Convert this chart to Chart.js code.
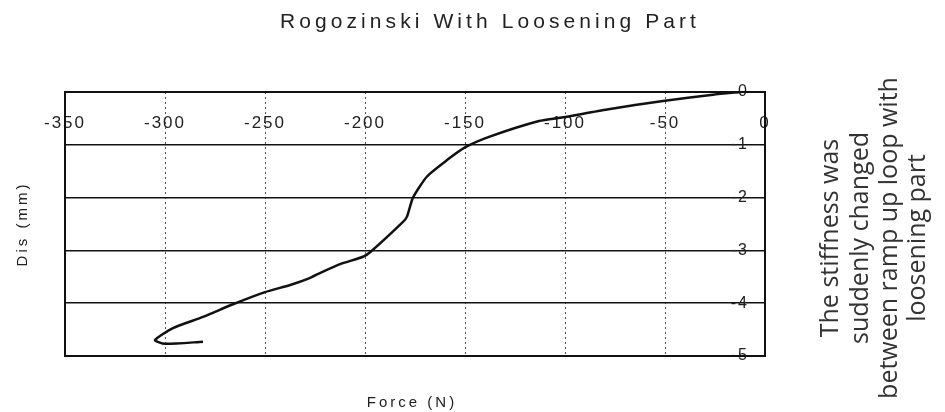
<!DOCTYPE html>
<html>
<head>
<meta charset="utf-8">
<script src="https://cdn.jsdelivr.net/npm/chart.js@4/dist/chart.umd.min.js"></script>
<style>
  body { margin: 0; background: #fff; }
  canvas { display: block; }
</style>
</head>
<body>
<canvas id="myChart" width="945" height="412"></canvas>
<script>
// data (Force in N, displacement in mm)
var forceN = [-12, -26, -51, -79, -101, -113, -138, -150, -159, -169, -176, -179, -181, -197, -201, -212.5, -222, -228, -237, -250, -266, -281, -296, -305, -300, -281];
var disMm = [0, -0.05, -0.17, -0.33, -0.48, -0.55, -0.85, -1.05, -1.29, -1.6, -2.0, -2.36, -2.46, -3.02, -3.12, -3.26, -3.42, -3.53, -3.65, -3.79, -4.02, -4.26, -4.47, -4.70, -4.77, -4.73];

var xTicks = [-350, -300, -250, -200, -150, -100, -50, 0];
var yTicks = [0, -1, -2, -3, -4, -5];

var chartTitle = 'Rogozinski With Loosening Part';
var xTitle = 'Force (N)';
var yTitle = 'Dis (mm)';
var note = ['The stiffness was', 'suddenly changed', 'between ramp up loop with', 'loosening part'];

var points = [];
for (var i = 0; i < forceN.length; i++) {
    points.push({ x: forceN[i], y: disMm[i] });
}

// spaced-out text helper
function spaced(ctx, text, x, y, font, spacing, align) {
    ctx.font = font;
    ctx.letterSpacing = spacing + 'px';
    ctx.textAlign = align || 'center';
    ctx.fillText(text, x, y);
    ctx.letterSpacing = '0px';
}

var decor = {
    id: 'decor',
    beforeDraw: function (chart) {
        // tick labels look letter-spaced in the reference
        chart.ctx.letterSpacing = '2px';
    },
    beforeDatasetsDraw: function (chart) {
        var ctx = chart.ctx, a = chart.chartArea;
        ctx.letterSpacing = '0px';
        ctx.save();
        ctx.strokeStyle = '#111';
        ctx.lineWidth = 2;
        ctx.strokeRect(a.left, a.top, a.right - a.left, a.bottom - a.top);
        ctx.restore();
    },
    afterDraw: function (chart) {
        var ctx = chart.ctx;
        ctx.save();
        ctx.fillStyle = '#222';
        ctx.textBaseline = 'alphabetic';

        // title, stretched to the width it has in the picture
        ctx.font = '21px "Liberation Sans", Arial, sans-serif';
        ctx.letterSpacing = '0px';
        var w0 = ctx.measureText(chartTitle).width;
        var ls = (420 - w0) / chartTitle.length;
        spaced(ctx, chartTitle, 280, 28, ctx.font, ls, 'left');

        spaced(ctx, xTitle, 412, 407, '15px "Liberation Sans", Arial, sans-serif', 3);

        ctx.save();
        ctx.translate(27, 224);
        ctx.rotate(-Math.PI / 2);
        spaced(ctx, yTitle, 0, 0, '15px "Liberation Sans", Arial, sans-serif', 3);
        ctx.restore();

        ctx.fillStyle = '#333';
        var baseX = [838, 868, 897, 925];
        for (var k = 0; k < note.length; k++) {
            ctx.save();
            ctx.translate(baseX[k], 238);
            ctx.rotate(-Math.PI / 2);
            spaced(ctx, note[k], 0, 0, '25px "Open Sans", sans-serif', 0);
            ctx.restore();
        }
        ctx.restore();
    }
};

var ctx = document.getElementById('myChart').getContext('2d');
window.myChart = new Chart(ctx, {
    type: 'scatter',
    data: {
        datasets: [{
            data: points,
            showLine: true,
            borderColor: '#111',
            borderWidth: 2.5,
            pointRadius: 0,
            tension: 0.2,
            fill: false
        }]
    },
    options: {
        responsive: false,
        animation: false,
        layout: { padding: { left: 65, right: 180, top: 92, bottom: 56 } },
        plugins: {
            legend: { display: false },
            tooltip: { enabled: false }
        },
        scales: {
            x: {
                type: 'linear',
                position: 'top',
                min: -350,
                max: 0,
                afterBuildTicks: function (s) { s.ticks = xTicks.map(function (v) { return { value: v }; }); },
                afterFit: function (s) { s.height = 0; },
                ticks: {
                    mirror: true,
                    padding: 21,
                    color: '#222',
                    font: { family: '"Liberation Sans", Arial, sans-serif', size: 17 }
                },
                grid: {
                    drawTicks: false,
                    color: '#555',
                    lineWidth: 1
                },
                border: { display: false, dash: [2, 3] }
            },
            y: {
                type: 'linear',
                position: 'right',
                min: -5,
                max: 0,
                afterBuildTicks: function (s) { s.ticks = yTicks.map(function (v) { return { value: v }; }); },
                afterFit: function (s) { s.width = 0; },
                ticks: {
                    mirror: true,
                    padding: -16,
                    color: '#222',
                    font: { family: '"Liberation Sans", Arial, sans-serif', size: 16 }
                },
                grid: {
                    drawTicks: false,
                    color: '#111',
                    lineWidth: 1.5
                },
                border: { display: false }
            }
        }
    },
    plugins: [decor]
});
</script>
</body>
</html>
